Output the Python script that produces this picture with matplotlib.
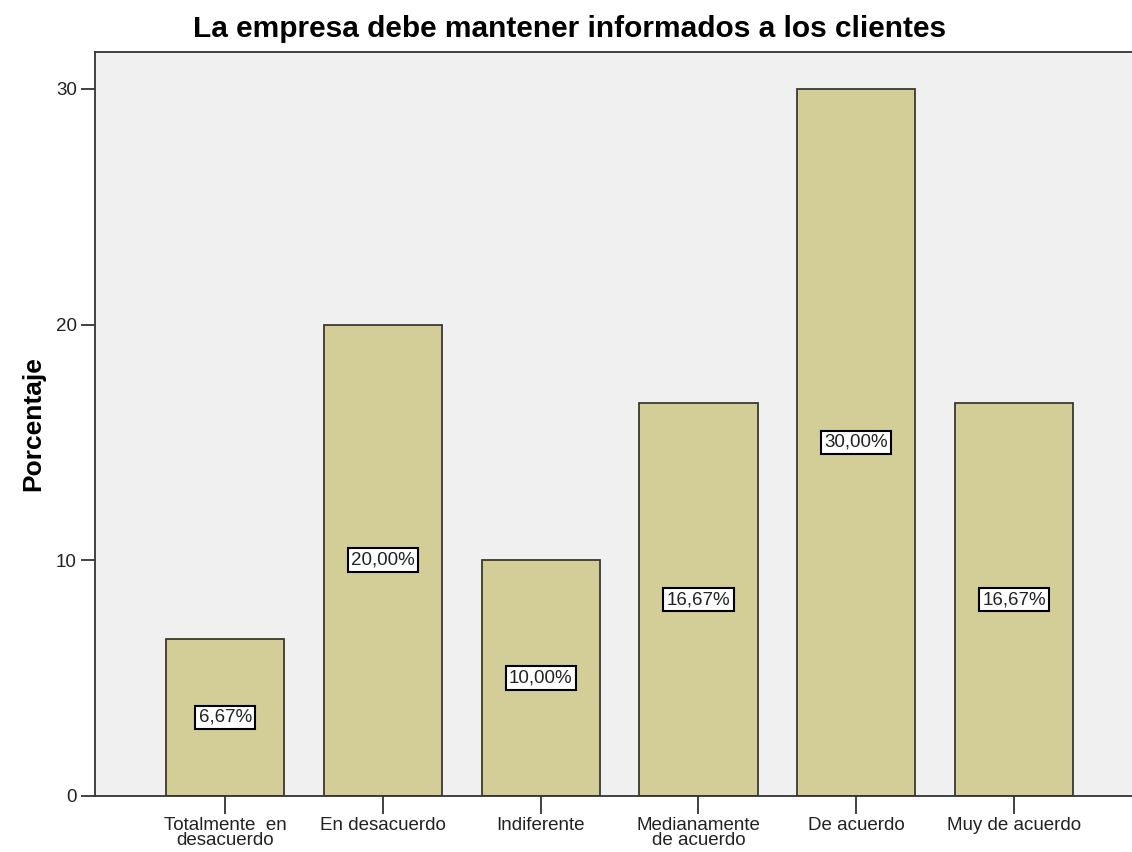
import numpy as np
import matplotlib.pyplot as plt

plt.rcParams['font.family'] = ['Liberation Sans', 'DejaVu Sans']

categorias = ['Totalmente  en\ndesacuerdo', 'En desacuerdo', 'Indiferente',
              'Medianamente\nde acuerdo', 'De acuerdo', 'Muy de acuerdo']
porcentajes = [6.67, 20.00, 10.00, 16.67, 30.00, 16.67]
etiquetas = ['6,67%', '20,00%', '10,00%', '16,67%', '30,00%', '16,67%']

fig = plt.figure(figsize=(11.32, 8.52), dpi=100)
ax = fig.add_axes([95 / 1132, 56 / 852, 1050 / 1132, 744 / 852])
ax.set_facecolor('#f0f0f0')

x = np.arange(len(categorias))
ax.bar(x, porcentajes, width=0.75, color='#d3ce97', edgecolor='#3a3a30',
       linewidth=1.3, zorder=2)

for xi, v, t in zip(x, porcentajes, etiquetas):
    ax.text(xi, v / 2, t, ha='center', va='center', fontsize=13.5, color='#222222',
            bbox=dict(boxstyle='square,pad=0.18', fc='white', ec='black', lw=1.5),
            zorder=3)

ax.set_xlim(-0.825, 5.83)
ax.set_ylim(0, 31.56)
ax.set_xticks(x)
ax.set_xticklabels(categorias, fontsize=13.5, color='#222222', linespacing=0.85)
ax.set_yticks([0, 10, 20, 30])
ax.set_yticklabels(['0', '10', '20', '30'], fontsize=13.5, color='#222222')
ax.tick_params(axis='y', direction='out', length=10, width=1.3, color='#333333', pad=3)
ax.tick_params(axis='x', direction='out', length=13, width=1.3, color='#333333', pad=2)

for s in ax.spines.values():
    s.set_color('#333333')
    s.set_linewidth(1.3)

ax.set_ylabel('Porcentaje', fontsize=19, fontweight='bold', labelpad=8)
fig.text(570 / 1132, 1 - 29 / 852, 'La empresa debe mantener informados a los clientes',
         ha='center', va='center', fontsize=21.5, fontweight='bold')

fig.savefig('out.png', dpi=100, facecolor='white')
